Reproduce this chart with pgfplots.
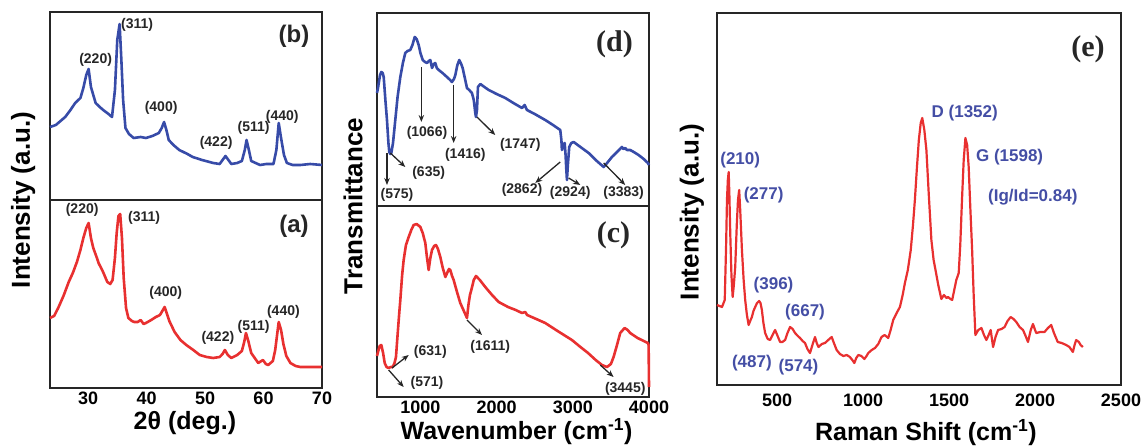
\documentclass[border=0pt]{standalone}
\usepackage{pgfplots}
\pgfplotsset{compat=1.18}
\usepackage{fontspec}
\setmainfont{Liberation Sans}
\newfontfamily\tnr{Liberation Serif}
\usetikzlibrary{arrows.meta}
\definecolor{xblue}{RGB}{55,75,168}
\definecolor{xred}{RGB}{232,48,48}
\definecolor{lblue}{RGB}{68,78,165}
\newcommand{\fs}[1]{\fontsize{#1}{#1}\selectfont\bfseries}
\newcommand{\fl}{\tnr\fontsize{30}{30}\selectfont\bfseries}
\pgfplotsset{
  base/.style={scale only axis, clip=false, axis line style={line width=1.5pt, black!85},
    major tick length=0pt, ytick=\empty, ticklabel style={font=\fs{18}}, anchor=south west},
}
\tikzset{
  lab/.style={font=\fs{14}, text=black!85, inner sep=0pt},
  rlab/.style={font=\fs{17}, text=lblue, inner sep=0pt},
  arr/.style={-{Stealth[length=7pt,width=5.5pt]}, line width=1.3pt, black!85},
}
\begin{document}
\begin{tikzpicture}
\useasboundingbox (0,0) rectangle (1143pt,447pt);
% ---------------- XRD (b)
\begin{axis}[base, at={(50pt,247pt)}, width=272pt, height=188pt,
  xmin=23.5, xmax=70, ymin=0, ymax=188, xtick=\empty]
\addplot[xblue, line width=2.6pt, line join=round] coordinates {
(23.5,73)(24.5,75)(25.5,80)(26.1,83)(27,90)(27.8,97)(28.7,102)(29.2,112)(29.7,125)(30.1,131)
(30.5,113)(31.3,97)(32,93)(32.6,90)(33.5,86)(34.1,83)(34.6,110)(35.0,160)(35.4,176)(35.7,140)
(36.0,100)(36.4,72)(37,66)(37.8,62)(39,63)(39.9,62)(41,64)(42.1,67)(42.6,72)(43.0,78)(43.4,70)
(43.8,60)(44.6,55)(45.6,50)(47,46)(47.9,43)(49.5,40)(51.4,37)(52.5,36)(53.0,40)(53.5,44)(54.0,40)
(54.5,36)(55.5,37)(56.3,39)(56.8,50)(57.1,60)(57.5,50)(57.9,39)(59.4,35)(60.5,36)(61.7,36)
(62.2,50)(62.6,77)(63.0,62)(63.5,45)(64.0,37)(65,35)(66.3,35)(68,36)(70,35)};
\node[lab] at (axis cs:31.3,140) {(220)};
\node[lab] at (axis cs:38.4,175) {(311)};
\node[lab] at (axis cs:42.5,92) {(400)};
\node[lab] at (axis cs:51.9,57) {(422)};
\node[lab] at (axis cs:58.3,72) {(511)};
\node[lab] at (axis cs:63.2,83) {(440)};
\node[font=\fs{24}, text=black!85] at (axis cs:65.2,164) {(b)};
\end{axis}
% ---------------- XRD (a)
\begin{axis}[base, at={(50pt,59pt)}, width=272pt, height=188pt,
  xmin=23.5, xmax=70, ymin=0, ymax=188,
  xtick={30,40,50,60,70}, xticklabels={30,40,50,60,70},
  xlabel={2θ (deg.)}, xlabel style={at={(axis description cs:0.496,-0.223)}, anchor=base, font=\fs{25}},
  ylabel={Intensity (a.u.)}, ylabel style={at={(axis description cs:-0.099,1)}, anchor=center, font=\fs{26}}]
\addplot[xred, line width=2.6pt, line join=round] coordinates {
(23.5,70)(24.2,72)(24.9,80)(25.8,92)(26.7,106)(27.4,115)(28.1,126)(28.7,138)(29.2,150)(29.7,160)
(30.1,165)(30.5,150)(30.9,140)(31.4,132)(31.8,125)(32.5,117)(33.3,106)(33.8,104)(34.2,108)(34.6,130)
(34.9,155)(35.2,172)(35.5,174)(35.8,150)(36.1,110)(36.5,80)(36.9,70)(37.5,67)(37.9,66)(38.5,66)
(39.0,68)(39.5,64)(39.9,65)(40.8,68)(41.6,71)(42.3,73)(42.8,78)(43.1,81)(43.5,74)(43.9,67)(44.8,56)
(45.8,48)(46.8,43)(48,38)(49.1,33)(50.3,31)(51.4,30)(52.5,31)(53.0,34)(53.4,38)(53.9,33)(54.5,30)
(55.5,33)(56.3,37)(56.7,46)(57.0,55)(57.4,47)(57.9,35)(58.5,30)(59.1,25)(59.9,28)(60.4,24)(60.8,23)
(61.6,27)(62.0,38)(62.3,52)(62.6,66)(63.0,58)(63.4,44)(63.9,32)(64.6,25)(65.5,22)(66.3,21)(68,21)(70,21)};
\node[lab] at (axis cs:29,178) {(220)};
\node[lab] at (axis cs:39.6,170) {(311)};
\node[lab] at (axis cs:43.3,95) {(400)};
\node[lab] at (axis cs:52.2,50) {(422)};
\node[lab] at (axis cs:58.3,61) {(511)};
\node[lab] at (axis cs:63.4,76) {(440)};
\node[font=\fs{24}, text=black!85] at (axis cs:65.2,162) {(a)};
\end{axis}
% ---------------- FTIR (d)
\begin{axis}[base, at={(377pt,241pt)}, width=272pt, height=193pt,
  xmin=430, xmax=4000, ymin=-1, ymax=192, xtick=\empty]
\addplot[xblue, line width=2.6pt, line join=round] coordinates {
(430,112)(443,117)(470,130)(487,133)(505,132)(518,128)(540,105)(561,85)(580,62)(591,53)(605,51)(618,52)
(640,62)(670,85)(700,108)(736,128)(770,142)(801,152)(830,154)(867,155)(895,160)(925,168)(950,166)
(977,160)(1000,152)(1030,145)(1060,143)(1086,142)(1110,144)(1130,145)(1152,137)(1175,141)(1195,142)
(1215,137)(1240,135)(1290,132)(1348,128)(1390,125)(1414,123)(1440,126)(1458,130)(1485,140)(1510,145)
(1535,141)(1554,137)(1580,128)(1611,117)(1640,115)(1676,112)(1700,105)(1720,92)(1729,88)(1742,95)
(1755,118)(1786,121)(1840,118)(1896,115)(2000,111)(2114,107)(2220,102)(2333,97)(2368,100)(2398,95)
(2500,91)(2638,85)(2740,80)(2835,75)(2850,65)(2857,55)(2875,60)(2893,62)(2905,50)(2915,35)(2923,25)
(2935,40)(2953,58)(2980,62)(3011,63)(3100,58)(3208,52)(3300,45)(3405,38)(3450,42)(3513,48)(3580,53)
(3644,58)(3665,56)(3688,57)(3710,55)(3753,55)(3800,53)(3863,50)(3930,46)(3985,42)(4000,40)};
\draw[arr] (axis cs:561,52) -- (axis cs:561,20);
\node[lab] at (axis cs:692,10) {(575)};
\draw[arr] (axis cs:605,52) -- (axis cs:801,38);
\node[lab] at (axis cs:1108,32) {(635)};
\draw[arr] (axis cs:1012,138) -- (axis cs:1012,83);
\node[lab] at (axis cs:1086,72) {(1066)};
\draw[arr] (axis cs:1436,120) -- (axis cs:1436,62);
\node[lab] at (axis cs:1589,50) {(1416)};
\draw[arr] (axis cs:1742,88) -- (axis cs:1982,70);
\node[lab] at (axis cs:2310,60) {(1747)};
\draw[arr] (axis cs:2835,43) -- (axis cs:2507,22);
\node[lab] at (axis cs:2333,15) {(2862)};
\draw[arr] (axis cs:2945,27) -- (axis cs:3098,20);
\node[lab] at (axis cs:2966,12) {(2924)};
\draw[arr] (axis cs:3405,42) -- (axis cs:3688,20);
\node[lab] at (axis cs:3667,12) {(3383)};
\node[font=\fl, text=black!85] at (axis cs:3546,161) {(d)};
\end{axis}
% ---------------- FTIR (c)
\begin{axis}[base, at={(377pt,50pt)}, width=272pt, height=191pt,
  xmin=430, xmax=4000, ymin=-7, ymax=184,
  xtick={1000,2000,3000,4000}, xticklabels={1000,2000,3000,4000},
  xlabel={Wavenumber (cm\textsuperscript{-1})}, xlabel style={at={(axis description cs:0.513,-0.225)}, anchor=base, font=\fs{25}},
  ylabel={Transmittance}, ylabel style={at={(axis description cs:-0.088,1)}, anchor=center, font=\fs{26}}]
\addplot[xred, line width=2.6pt, line join=round] coordinates {
(430,34)(443,38)(465,44)(487,45)(510,37)(531,27)(555,23)(583,22)(610,23)(636,23)(660,27)(679,33)
(700,55)(720,75)(736,90)(760,115)(780,130)(810,145)(846,153)(880,160)(911,165)(950,166)(999,163)
(1030,157)(1064,147)(1085,133)(1108,120)(1130,132)(1152,140)(1180,144)(1204,145)(1230,141)(1261,133)
(1290,123)(1327,113)(1350,117)(1375,121)(1392,120)(1415,114)(1436,110)(1480,98)(1523,87)(1570,79)
(1611,72)(1630,85)(1650,95)(1668,100)(1700,110)(1729,114)(1780,110)(1851,103)(1940,95)(2027,88)
(2150,83)(2250,80)(2333,77)(2376,78)(2400,75)(2520,71)(2638,67)(2800,59)(2988,50)(3100,43)(3200,37)
(3300,30)(3382,25)(3448,23)(3500,26)(3535,33)(3580,45)(3622,57)(3680,62)(3720,60)(3753,57)(3850,52)
(3985,47)(3995,45)(4000,3)};
\draw[arr] (axis cs:627,22) -- (axis cs:846,35);
\node[lab] at (axis cs:1130,38) {(631)};
\draw[arr] (axis cs:583,20) -- (axis cs:780,3);
\node[lab] at (axis cs:1086,7) {(571)};
\draw[arr] (axis cs:1611,70) -- (axis cs:1808,55);
\node[lab] at (axis cs:1917,43) {(1611)};
\draw[arr] (axis cs:3360,25) -- (axis cs:3535,13);
\node[lab] at (axis cs:3688,1) {(3445)};
\node[font=\fl, text=black!85] at (axis cs:3533,155) {(c)};
\end{axis}
% ---------------- Raman (e)
\begin{axis}[base, at={(717pt,62pt)}, width=404pt, height=372pt,
  xmin=150, xmax=2500, ymin=0, ymax=372,
  xtick={500,1000,1500,2000,2500}, xticklabels={500,1000,1500,2000,2500},
  xticklabel style={yshift=-5pt},
  xlabel={Raman Shift (cm\textsuperscript{-1})}, xlabel style={at={(axis description cs:0.517,-0.148)}, anchor=base, font=\fs{25}},
  ylabel={Intensity (a.u.)}, ylabel style={at={(axis description cs:-0.062,0.465)}, anchor=center, font=\fs{26}}]
\addplot[xred, line width=2.2pt, line join=round] coordinates {
(150,80)(165,79)(179,78)(195,85)(203,140)(208,185)(213,205)(218,213)(222,190)(227,152)(234,110)(241,88)
(248,100)(256,118)(265,160)(272,185)(279,195)(285,175)(295,135)(305,105)(314,85)(324,70)(334,60)(343,64)
(353,68)(362,74)(372,78)(383,82)(395,84)(403,82)(411,75)(420,62)(430,52)(445,46)(459,45)(473,50)(488,55)
(500,50)(517,43)(530,43)(546,45)(560,52)(575,58)(590,56)(604,52)(620,49)(633,47)(648,44)(662,42)(676,36)
(691,32)(705,40)(720,48)(730,42)(740,38)(760,41)(778,42)(797,45)(817,48)(830,42)(846,35)(865,31)(885,29)
(905,30)(923,28)(937,25)(949,22)(960,27)(972,30)(990,29)(1007,26)(1020,29)(1030,32)(1050,35)(1069,37)
(1088,41)(1107,48)(1125,50)(1146,47)(1160,55)(1175,65)(1195,72)(1214,78)(1230,90)(1243,102)(1260,115)
(1277,135)(1290,160)(1301,185)(1312,215)(1324,245)(1335,262)(1344,267)(1356,255)(1368,235)(1382,190)
(1397,145)(1410,125)(1421,115)(1437,100)(1455,86)(1470,90)(1485,87)(1494,88)(1508,86)(1518,85)(1530,95)
(1542,105)(1556,112)(1565,140)(1575,185)(1585,225)(1595,247)(1605,240)(1614,218)(1624,175)(1634,135)
(1643,90)(1653,50)(1670,55)(1688,57)(1703,50)(1717,45)(1730,50)(1742,55)(1750,45)(1756,38)(1770,48)
(1785,55)(1805,56)(1823,58)(1840,64)(1858,68)(1875,66)(1891,63)(1910,58)(1930,55)(1945,49)(1959,43)
(1975,55)(1988,61)(2000,55)(2007,52)(2030,53)(2055,53)(2075,57)(2094,60)(2110,52)(2132,43)(2155,42)
(2181,40)(2200,38)(2220,33)(2230,40)(2239,45)(2255,43)(2265,40)(2278,38)};
\node[rlab] at (axis cs:285,225) {(210)};
\node[rlab] at (axis cs:421,190) {(277)};
\node[rlab] at (axis cs:479,100) {(396)};
\node[rlab] at (axis cs:662,73) {(667)};
\node[rlab] at (axis cs:353,22) {(487)};
\node[rlab] at (axis cs:624,18) {(574)};
\node[rlab] at (axis cs:1591,272) {D (1352)};
\node[rlab] at (axis cs:1852,228) {G (1598)};
\node[rlab] at (axis cs:1987,188) {(Ig/Id=0.84)};
\node[font=\fl, text=black!85] at (axis cs:2308,336) {(e)};
\end{axis}
\end{tikzpicture}
\end{document}
